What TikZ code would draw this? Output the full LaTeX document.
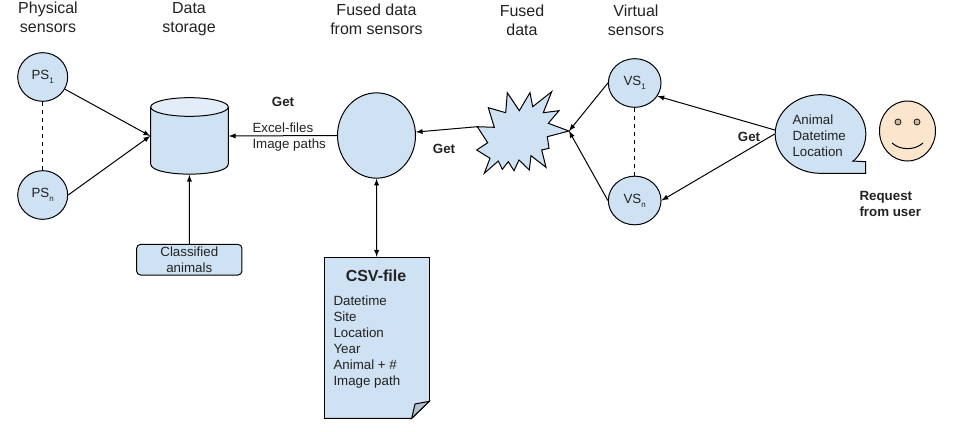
\documentclass[tikz,border=0pt]{standalone}
\usepackage{fontspec}
\setmainfont{Liberation Sans}
\usetikzlibrary{arrows}
\usetikzlibrary{shapes.geometric}
\definecolor{boxblue}{HTML}{CFE2F3}
\definecolor{topblue}{HTML}{E2EDF8}
\definecolor{skin}{HTML}{FCE5CD}
\definecolor{foldgrey}{HTML}{B4C0CC}
\definecolor{inkgrey}{HTML}{222222}
\newcommand{\sensorsub}[1]{\raisebox{-3pt}{\fontsize{6}{6}\selectfont #1}}
\tikzset{
  sensor/.style={ellipse,draw,fill=boxblue,inner sep=0pt,minimum width=37.5pt,minimum height=36.5pt,font=\fontsize{10}{12}\selectfont,text=inkgrey},
  heading/.style={align=center,inner sep=0pt,font=\fontsize{12}{14.25}\selectfont,text=inkgrey},
  note/.style={align=left,inner sep=0pt,font=\fontsize{10}{12}\selectfont,text=inkgrey},
  boldnote/.style={note,font=\fontsize{10}{12}\selectfont\bfseries},
  link/.style={->,>=latex},
}
\begin{document}
\begin{tikzpicture}[x=0.75pt,y=-0.75pt,line width=0.75pt]
    \useasboundingbox (0,0) rectangle (958,432);
    % headings
    \node[heading] (headps) at (48,17.5) {Physical\\sensors};
    \node[heading] (headstore) at (189,19.5) {Data\\storage};
    \node[heading] (headfused) at (376.5,19) {Fused data\\from sensors};
    \node[heading] (headburst) at (522,20.5) {Fused\\data};
    \node[heading] (headvs) at (636,20.5) {Virtual\\sensors};
    % left side
    \node[sensor] (ps1) at (42.7,77) {PS\sensorsub{1}};
    \node[sensor] (psn) at (42.7,195) {PS\sensorsub{n}};
    \node[inner sep=0pt,minimum width=58.2pt,minimum height=57.5pt] (store) at (189.5,136) {};
    \draw[fill=boxblue] (150.7,107) -- (150.7,164) .. controls (150.7,177.5) and (228.3,177.5) .. (228.3,164) -- (228.3,107);
    \draw[fill=topblue] (189.5,107) ellipse (29.1pt and 7pt);
    \node[draw,rounded corners=3pt,fill=boxblue,align=center,inner sep=0pt,
      minimum width=79pt,minimum height=23pt,font=\fontsize{10}{12}\selectfont,text=inkgrey]
      (classified) at (189.3,259.7) {Classified\\animals};
    % middle
    \node[ellipse,draw,fill=boxblue,inner sep=0pt,minimum width=58.5pt,minimum height=64pt] (fused) at (376.5,135.5) {};
    \node[draw,fill=boxblue,inner sep=0pt,minimum width=78.75pt,minimum height=120.75pt] (csv) at (376.8,337.8) {};
    \fill[white] (429.9,400.8) -- (430,419) -- (411.2,419) -- cycle;
    \draw (429.3,401.3) -- (411.7,418.3) -- (324.3,418.3);
    \draw[fill=foldgrey] (429.3,401.3) -- (415,404) -- (411.7,418.3) -- cycle;
    \node[inner sep=0pt,font=\fontsize{12}{14}\selectfont\bfseries,text=inkgrey] (csvhead) at (376,276) {CSV-file};
    \node[note,anchor=north west] (csvtext) at (333,295) {Datetime\\Site\\Location\\Year\\Animal + \#\\Image path};
    \draw[fill=boxblue] (477.3,126.7) -- (494.3,127.3) -- (488.3,107.7) -- (505.7,112.7)
      -- (507.3,92.7) -- (519.3,110.7) -- (530,92.7) -- (532.7,106.7) -- (551.7,91.7)
      -- (543.3,112.7) -- (559,110.7) -- (548.3,123.3) -- (569,131) -- (547.3,136.7)
      -- (549,148.3) -- (541.7,150) -- (546,167.3) -- (531,155.7) -- (529.3,170)
      -- (519,160) -- (514,170.7) -- (508.3,161.7) -- (502.3,169.3) -- (498.3,161)
      -- (484.3,173.3) -- (490,158.3) -- (476.7,150) -- (487.7,142.7) -- cycle;
    \coordinate (burstleft) at (477.3,126.7);
    \coordinate (bursttip) at (569,131);
    % right side
    \node[sensor,minimum width=39.5pt] (vs1) at (634.7,83) {VS\sensorsub{1}};
    \node[sensor,minimum width=39.5pt] (vsn) at (634.7,200.5) {VS\sensorsub{n}};
    \node[ellipse,draw,fill=boxblue,inner sep=0pt,minimum width=68pt,minimum height=59pt] (bubble) at (820.5,134) {};
    \fill[boxblue] (852,161) -- (866,161.7) -- (866,173.3) -- (822,173.3) -- (835,150) -- cycle;
    \draw (852,161) -- (865.7,161.7) -- (865.7,173.3) -- (822,173.3);
    \node[note,anchor=west] (bubbletext) at (792,136) {Animal\\Datetime\\Location};
    \node[ellipse,draw,fill=skin,inner sep=0pt,minimum width=42pt,minimum height=45pt] (smiley) at (907.5,131) {};
    \node[circle,draw,fill=skin!80!black,inner sep=0pt,minimum size=4.5pt,line width=0.5pt] (eyeleft) at (898,122) {};
    \node[circle,draw,fill=skin!80!black,inner sep=0pt,minimum size=4.5pt,line width=0.5pt] (eyeright) at (917,122) {};
    \draw (892,143) .. controls (900,150.5) and (915,150.5) .. (923,143);
    % connectors
    \draw[dashed] (ps1) -- (psn);
    \draw[dashed] (vs1) -- (vsn);
    \draw[link] (ps1) -- (store.west);
    \draw[link] (psn.east) -- (store.west);
    \draw[link] (classified) -- (store);
    \draw[link] (fused.west) -- (store.east);
    \draw[<->,>=latex] (csv) -- (fused);
    \draw[link] (burstleft) -- (fused);
    \draw[link] (vs1.west) -- (bursttip);
    \draw[link] (vsn.west) -- (bursttip);
    \draw[link] (bubble.175) -- (vs1.-30);
    \draw[link] (bubble.west) -- (vsn.east);
    % labels
    \node[boldnote] (getstore) at (283,102) {Get};
    \node[note,anchor=west] (files) at (252,137) {Excel-files\\Image paths};
    \node[boldnote] (getfused) at (444,149) {Get};
    \node[boldnote] (getvs) at (749,137) {Get};
    \node[boldnote,anchor=west] (request) at (859,204) {Request\\from user};
  \end{tikzpicture}
\end{document}
